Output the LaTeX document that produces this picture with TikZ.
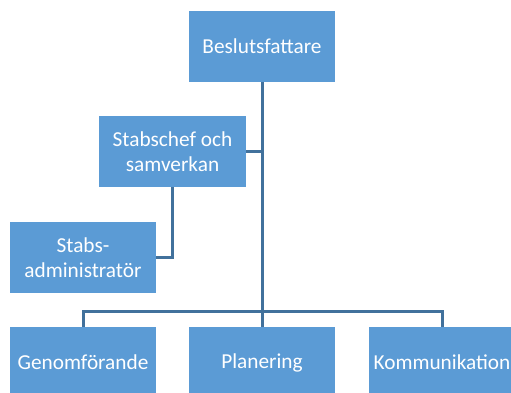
\documentclass[tikz,border=0pt]{standalone}
\usepackage{fontspec}
\setmainfont{Carlito}
\definecolor{boxblue}{HTML}{5B9BD5}
\definecolor{lineblue}{HTML}{41719C}
\begin{document}
\begin{tikzpicture}[x=1pt,y=-1pt,
  orgbox/.style={fill=boxblue, draw=none, text=white, minimum width=146pt, minimum height=71pt,
    align=center, inner sep=0pt, font=\fontsize{21.3}{25.5}\selectfont},
  conn/.style={draw=lineblue, line width=3pt}]
\useasboundingbox (0,0) rectangle (511,392);
\clip (0,0) rectangle (511,392);
\node[orgbox] (top) at (262,46.5) {Beslutsfattare};
\node[orgbox, minimum width=147pt] (stab) at (172.5,151.5) {Stabschef och\\samverkan};
\node[orgbox] (adm) at (83,257.5) {Stabs-\\administratör};
\node[orgbox] (gen) at (83,362.5) {Genomförande};
\node[orgbox] (plan) at (262,362.5) {Planering};
\node[orgbox] (komm) at (442,362.5) {Kommunikation};
\coordinate (bus) at (262,311);
\draw[conn] (top.south) -- (plan.north);
\draw[conn] (stab.east) -- (stab.east -| top.south);
\draw[conn] (stab.south) |- (adm.east);
\draw[conn] (gen.north) |- (bus) -| (komm.north);
\end{tikzpicture}
\end{document}
